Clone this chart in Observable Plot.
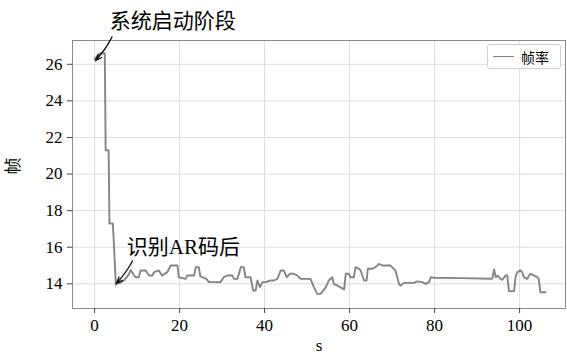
<!DOCTYPE html>
<html><head><meta charset="utf-8">
<script src="https://cdn.jsdelivr.net/npm/d3@7"></script>
<script src="https://cdn.jsdelivr.net/npm/@observablehq/plot@0.6"></script>
<style>
body{margin:0;background:#fff;}
#wrap{position:relative;width:567px;height:360px;}
.legend{position:absolute;left:487px;top:44px;width:74px;height:25px;border:1px solid #d0d0d0;border-radius:3px;background:#fff;box-sizing:border-box;font:14px "Noto Sans CJK SC";display:flex;align-items:center;color:#000;}
.legend .sw{display:inline-block;width:21px;height:0;border-top:1.8px solid #858585;margin:0 7px 0 5px;}
.legend .tx{color:#000;}
</style></head><body><div id="wrap"></div>
<script>
// time (s)
const times = [0,1.3,2.4,2.6,3.3,3.5,4.3,5.0,5.2,6.0,7.0,8.0,8.5,9.2,9.6,10.4,10.8,12.0,12.8,13.6,14.0,15.1,15.9,17.1,17.9,19.5,19.8,21.4,21.8,23.4,23.8,24.5,24.9,26.3,26.9,29.6,30.4,31.2,32.4,32.8,33.6,34.4,35.1,35.5,36.7,37.3,37.9,38.3,38.9,39.5,40.2,41.4,42.2,43.0,43.8,44.5,45.2,46.0,46.9,47.7,48.5,50.8,51.6,52.4,53.2,54.4,55.1,55.9,56.3,57.1,58.7,59.1,59.8,60.2,61.0,61.4,62.2,62.6,63.0,63.4,64.0,64.3,65.3,66.1,66.9,67.7,69.6,70.0,70.8,71.6,72.0,72.8,75.1,75.9,77.1,77.9,78.7,79.1,79.8,86.1,93.6,94.0,94.4,94.8,95.5,95.9,96.7,97.1,97.5,98.7,99.1,99.5,100.2,100.6,101.0,101.8,102.2,102.6,103.4,104.2,104.5,104.9,106.1];
// frame rate
const fps = [26.3,26.6,26.6,21.3,21.3,17.3,17.3,13.95,14.0,14.05,14.2,14.5,14.75,14.5,14.36,14.36,14.73,14.73,14.45,14.45,14.64,14.73,14.45,14.64,15.0,15.0,14.36,14.27,14.45,14.45,14.91,14.91,14.4,14.27,14.09,14.09,14.36,14.45,14.45,14.27,14.27,14.91,14.91,14.36,14.36,13.63,13.63,14.18,13.82,14.09,14.09,14.18,14.18,14.27,14.73,14.73,14.36,14.55,14.55,14.45,14.27,14.27,13.82,13.45,13.45,13.82,14.18,14.36,14.0,13.9,13.7,14.55,14.55,14.36,14.36,14.91,14.82,14.73,14.45,14.18,14.18,14.82,14.82,14.91,15.09,15.0,15.0,14.91,14.73,14.0,13.9,14.05,14.05,14.13,14.09,14.0,14.09,14.36,14.33,14.31,14.28,14.78,14.36,14.45,14.27,14.22,14.45,14.45,13.6,13.6,14.45,14.64,14.73,14.64,14.36,14.27,14.45,14.55,14.45,14.36,14.27,13.54,13.54];
const tickX = [0,20,40,60,80,100];
const tickY = [14,16,18,20,22,24,26];
const seriesName = "帧率";
const xLabel = "s";
const yLabel = "帧";
// annotations (data units)
const annoText = ["系统启动阶段","识别AR码后"];
const annoTextX = [18.4, 20.9];
const annoTextY = [28.35, 16.0];
const arrowFromX = [4.1, 8.9];
const arrowFromY = [27.5, 15.25];
const arrowToX = [0.2, 5.1];
const arrowToY = [26.2, 14.02];

const data = times.map((t,i)=>({t, v: fps[i]}));
const annos = annoText.map((s,i)=>({s, x: annoTextX[i], y: annoTextY[i], x1: arrowFromX[i], y1: arrowFromY[i], x2: arrowToX[i], y2: arrowToY[i]}));

const serif = "'Liberation Serif','Times New Roman',serif";
const cjk = "'Liberation Serif','Noto Sans CJK SC',sans-serif";

const chart = Plot.plot({
  width: 567, height: 360,
  marginLeft: 72, marginRight: 2, marginTop: 40, marginBottom: 52,
  style: {fontFamily: serif, fontSize: "17px", color: "#000", background: "#fff", overflow: "visible"},
  x: {domain: [-5.2, 110.8], label: null},
  y: {domain: [12.65, 27.3], label: null},
  marks: [
    Plot.gridX(tickX, {stroke: "#dcdcdc", strokeOpacity: 1, strokeWidth: 1}),
    Plot.gridY(tickY, {stroke: "#dcdcdc", strokeOpacity: 1, strokeWidth: 1}),
    Plot.frame({stroke: "#8a8a8a", strokeWidth: 1}),
    Plot.axisX({ticks: tickX, tickSize: 5, tickPadding: 5, stroke: "#444", fontSize: 17, label: null}),
    Plot.axisY({ticks: tickY, tickSize: 5, tickPadding: 5, stroke: "#444", fontSize: 17, label: null}),
    Plot.text([xLabel], {frameAnchor: "bottom", dy: 42, fontSize: 17, fontFamily: serif}),
    Plot.text([yLabel], {frameAnchor: "left", dx: -59, rotate: -90, fontSize: 17, fontFamily: "'Noto Sans CJK SC'"}),
    Plot.line(data, {x: "t", y: "v", stroke: "#858585", strokeWidth: 1.9}),
    Plot.arrow(annos, {x1: "x1", y1: "y1", x2: "x2", y2: "y2", bend: 8, stroke: "#111", strokeWidth: 1.3, headLength: 8, headAngle: 40}),
    Plot.text(annos, {x: "x", y: "y", text: "s", fontSize: 21, fontFamily: cjk, fill: "#000"})
  ]
});
const wrap = document.getElementById("wrap");
wrap.appendChild(chart);
const lg = document.createElement("div");
lg.className = "legend";
lg.innerHTML = '<span class="sw"></span><span class="tx"></span>';
lg.lastChild.textContent = seriesName;
wrap.appendChild(lg);
</script></body></html>
